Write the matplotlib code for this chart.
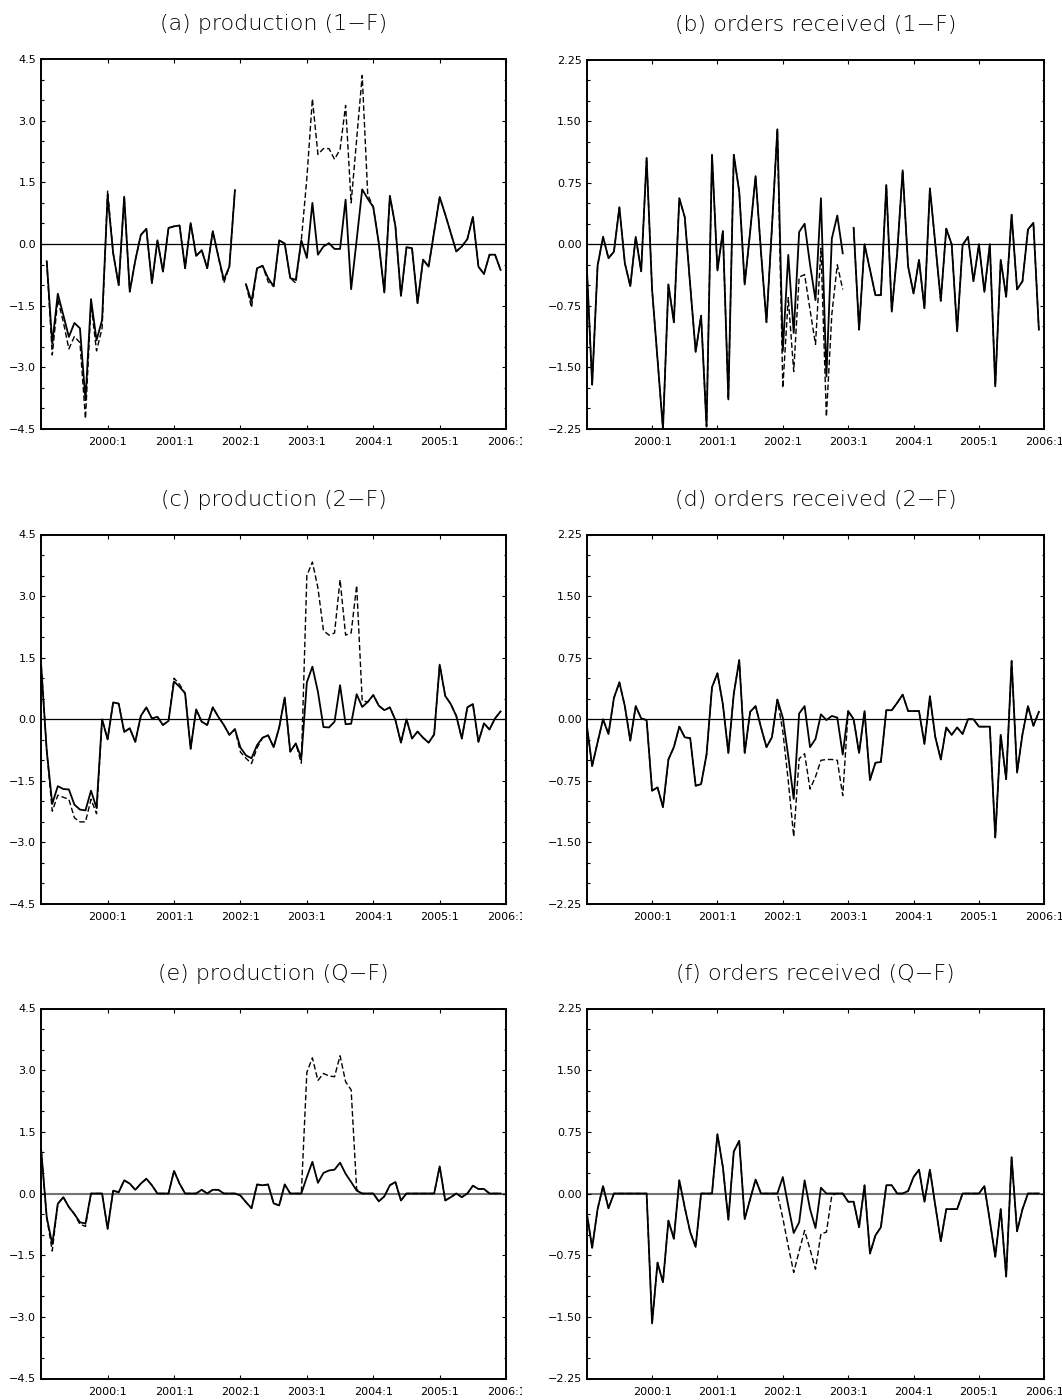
import numpy as np
import matplotlib
matplotlib.use('Agg')
import matplotlib.pyplot as plt
from matplotlib.ticker import FixedLocator, FuncFormatter
from matplotlib.transforms import Bbox

nan = np.nan

# month index: 0 = 1999:1 ... 83 = 2005:12
year_ticks = [12, 24, 36, 48, 60, 72, 84]
year_labels = ['2000:1', '2001:1', '2002:1', '2003:1', '2004:1', '2005:1', '2006:1']

# ---- (a) production (1-F)
prod_1f = [nan, -0.42, -2.42, -1.21, -1.73, -2.26, -1.92, -2.05, -3.80, -1.34, -2.34, -1.85,
           1.17, -0.22, -1.00, 1.15, -1.16, -0.40, 0.22, 0.37, -0.95, 0.09, -0.67, 0.39,
           0.43, 0.45, -0.59, 0.51, -0.29, -0.15, -0.59, 0.31, -0.30, -0.87, -0.55, 1.31,
           nan, -0.98, -1.40, -0.59, -0.53, -0.83, -1.03, 0.09, 0.01, -0.83, -0.87, 0.09,
           -0.34, 1.00, -0.26, -0.06, 0.02, -0.12, -0.12, 1.08, -1.10, 0.10, 1.33, 1.10,
           0.90, 0.02, -1.18, 1.17, 0.43, -1.26, -0.08, -0.10, -1.44, -0.38, -0.55, 0.30,
           1.14, 0.72, 0.27, -0.18, -0.06, 0.12, 0.66, -0.55, -0.73, -0.26, -0.26, -0.63]
# dashed series where it departs from the solid one: {first month: values}
prod_1f_dash = {1: [-0.42, -2.70, -1.35, -1.90, -2.55, -2.25, -2.40, -4.25, -1.45, -2.60, -2.05, 1.30],
                33: [-0.95], 38: [-1.55], 41: [-0.92], 46: [-0.95],
                48: [1.60, 3.53, 2.18, 2.32, 2.32, 2.06, 2.30, 3.37, 1.00, 2.55, 4.10, 1.20]}

# ---- (b) orders received (1-F)
ord_1f = [-0.24, -1.71, -0.26, 0.09, -0.17, -0.09, 0.45, -0.23, -0.51, 0.09, -0.33, 1.05,
          -0.55, -1.40, -2.25, -0.49, -0.95, 0.56, 0.33, -0.50, -1.31, -0.87, -2.22, 1.09,
          -0.32, 0.16, -1.89, 1.09, 0.64, -0.49, 0.15, 0.83, -0.10, -0.95, 0.20, 1.40,
          -1.30, -0.13, -1.08, 0.15, 0.25, -0.25, -0.68, 0.56, -1.61, 0.07, 0.35, -0.11,
          nan, 0.20, -1.04, 0.00, -0.31, -0.62, -0.62, 0.72, -0.82, -0.10, 0.90, -0.27,
          -0.60, -0.19, -0.78, 0.68, 0.00, -0.69, 0.19, 0.00, -1.06, -0.01, 0.09, -0.45,
          0.00, -0.58, 0.00, -1.73, -0.19, -0.64, 0.36, -0.55, -0.45, 0.18, 0.26, -1.04]
ord_1f_dash = {36: [-1.75, -0.65, -1.55, -0.40, -0.37, -0.80, -1.22, -0.05, -2.10, -0.85, -0.25, -0.55]}

# ---- (c) production (2-F)
prod_2f = [1.30, -0.77, -2.06, -1.63, -1.70, -1.71, -2.08, -2.20, -2.22, -1.74, -2.16, 0.00,
           -0.49, 0.41, 0.38, -0.31, -0.22, -0.55, 0.08, 0.29, 0.02, 0.06, -0.14, -0.04,
           0.92, 0.79, 0.63, -0.72, 0.24, -0.06, -0.14, 0.29, 0.06, -0.14, -0.38, -0.24,
           -0.69, -0.88, -0.95, -0.63, -0.45, -0.39, -0.68, -0.20, 0.53, -0.79, -0.59, -0.94,
           0.90, 1.28, 0.67, -0.19, -0.20, -0.06, 0.83, -0.12, -0.11, 0.61, 0.30, 0.42,
           0.59, 0.33, 0.22, 0.29, -0.02, -0.57, 0.00, -0.47, -0.30, -0.45, -0.57, -0.37,
           1.33, 0.57, 0.37, 0.08, -0.47, 0.29, 0.37, -0.55, -0.10, -0.25, 0.02, 0.19]
prod_2f_dash = {2: [-2.24, -1.85, -1.90, -1.95, -2.40, -2.50, -2.50, -1.95, -2.30],
                24: [1.00, 0.85],
                36: [-0.80, -0.95, -1.08, -0.70],
                47: [-1.07, 3.50, 3.83, 3.20, 2.16, 2.05, 2.10, 3.40, 2.05, 2.10, 3.26, 0.45]}

# ---- (d) orders received (2-F)
ord_2f = [-0.06, -0.57, -0.28, 0.00, -0.18, 0.26, 0.45, 0.16, -0.26, 0.16, 0.01, -0.01,
          -0.87, -0.83, -1.07, -0.49, -0.34, -0.09, -0.22, -0.23, -0.81, -0.79, -0.43, 0.39,
          0.56, 0.18, -0.41, 0.31, 0.72, -0.41, 0.09, 0.16, -0.10, -0.34, -0.22, 0.24,
          0.02, -0.45, -0.97, 0.07, 0.16, -0.34, -0.24, 0.06, -0.01, 0.04, 0.02, -0.43,
          0.10, 0.00, -0.41, 0.10, -0.74, -0.53, -0.52, 0.11, 0.11, 0.20, 0.30, 0.10,
          0.10, 0.10, -0.30, 0.28, -0.22, -0.49, -0.10, -0.19, -0.10, -0.18, 0.00, 0.00,
          -0.09, -0.09, -0.09, -1.44, -0.19, -0.73, 0.71, -0.65, -0.18, 0.16, -0.08, 0.09]
ord_2f_dash = {36: [-0.15, -0.75, -1.43, -0.48, -0.42, -0.85, -0.70, -0.50, -0.49, -0.49, -0.50, -0.93]}

# ---- (e) production (Q-F)
prod_qf = [1.05, -0.58, -1.23, -0.25, -0.09, -0.33, -0.50, -0.70, -0.73, 0.00, 0.00, 0.00,
           -0.86, 0.07, 0.03, 0.32, 0.24, 0.09, 0.24, 0.36, 0.20, 0.00, 0.00, 0.00,
           0.55, 0.24, 0.00, 0.00, 0.00, 0.09, 0.00, 0.09, 0.09, 0.00, 0.00, 0.00,
           -0.05, -0.21, -0.36, 0.22, 0.20, 0.22, -0.24, -0.29, 0.22, 0.00, 0.00, 0.00,
           0.40, 0.77, 0.26, 0.50, 0.56, 0.58, 0.75, 0.48, 0.28, 0.07, 0.00, 0.00,
           0.00, -0.19, -0.07, 0.20, 0.28, -0.17, 0.00, 0.00, 0.00, 0.00, 0.00, 0.00,
           0.66, -0.17, -0.09, 0.00, -0.09, 0.00, 0.19, 0.11, 0.11, 0.00, 0.00, 0.00]
prod_qf_dash = {2: [-1.40], 7: [-0.75, -0.80],
                48: [2.95, 3.30, 2.75, 2.92, 2.86, 2.84, 3.35, 2.72, 2.52, 0.10]}

# ---- (f) orders received (Q-F)
ord_qf = [-0.23, -0.66, -0.19, 0.09, -0.18, 0.00, 0.00, 0.00, 0.00, 0.00, 0.00, 0.00,
          -1.58, -0.84, -1.08, -0.33, -0.55, 0.16, -0.17, -0.47, -0.65, 0.00, 0.00, 0.00,
          0.72, 0.32, -0.32, 0.51, 0.64, -0.31, -0.07, 0.17, 0.00, 0.00, 0.00, 0.00,
          0.20, -0.15, -0.48, -0.35, 0.16, -0.19, -0.42, 0.07, 0.00, 0.00, 0.00, 0.00,
          -0.10, -0.10, -0.41, 0.10, -0.73, -0.51, -0.41, 0.10, 0.10, 0.00, 0.00, 0.03,
          0.20, 0.29, -0.10, 0.29, -0.15, -0.58, -0.19, -0.19, -0.19, 0.00, 0.00, 0.00,
          0.00, 0.09, -0.33, -0.77, -0.19, -1.01, 0.44, -0.46, -0.19, 0.00, 0.00, 0.00]
ord_qf_dash = {36: [-0.30, -0.64, -0.96, -0.70, -0.45, -0.68, -0.92, -0.49, -0.47, -0.02]}

prod_ticks = [-4.5, -3.0, -1.5, 0.0, 1.5, 3.0, 4.5]
ord_ticks = [-2.25, -1.50, -0.75, 0.0, 0.75, 1.50, 2.25]

W, H = 1062, 1400
plt.rcParams['font.family'] = ['DejaVu Sans']
fig = plt.figure(figsize=(W / 100, H / 100), dpi=100)


def rect(l, t, r, b):
    return [l / W, 1 - b / H, (r - l) / W, (b - t) / H]


LX = (41.2, 506.1)
RX = (586.7, 1044.3)
panels = [
    ('(a) production (1\u2212F)', prod_1f, prod_1f_dash, prod_ticks, 1, rect(LX[0], 59, LX[1], 429), 'k'),
    ('(b) orders received (1\u2212F)', ord_1f, ord_1f_dash, ord_ticks, 2, rect(RX[0], 59.5, RX[1], 429), 'k'),
    ('(c) production (2\u2212F)', prod_2f, prod_2f_dash, prod_ticks, 1, rect(LX[0], 534.5, LX[1], 904), 'k'),
    ('(d) orders received (2\u2212F)', ord_2f, ord_2f_dash, ord_ticks, 2, rect(RX[0], 534.5, RX[1], 904), 'k'),
    ('(e) production (Q\u2212F)', prod_qf, prod_qf_dash, prod_ticks, 1, rect(LX[0], 1008.5, LX[1], 1378.5), '0.45'),
    ('(f) orders received (Q\u2212F)', ord_qf, ord_qf_dash, ord_ticks, 2, rect(RX[0], 1008.5, RX[1], 1378.5), '0.45'),
]

axes = []
for title, solid, dash_parts, yt, ndec, box, zcol in panels:
    ax = fig.add_axes(box)
    solid = np.array(solid, dtype=float)
    dashed = solid.copy()
    for start, vals in dash_parts.items():
        dashed[start:start + len(vals)] = vals
    months = np.arange(len(solid))

    ax.axhline(0, color=zcol, lw=0.9 if zcol == 'k' else 1.5, zorder=1)
    ax.plot(months, dashed, color='k', lw=1.0, ls=(0, (4, 2)), zorder=2)
    ax.plot(months, solid, color='k', lw=1.3, zorder=3)

    ax.set_xlim(0, 84)
    ax.set_ylim(yt[0], yt[-1])
    ax.set_xticks(year_ticks, year_labels)
    ax.yaxis.set_major_locator(FixedLocator(yt))
    step = (yt[1] - yt[0]) / 3
    ax.yaxis.set_minor_locator(FixedLocator(np.arange(yt[0], yt[-1] + step / 2, step)))

    def fmt(v, pos, nd=ndec):
        if abs(v) < 1e-9:
            v = 0.0
        return f'{v:.{nd}f}'.replace('-', '\u2212')
    ax.yaxis.set_major_formatter(FuncFormatter(fmt))

    ax.tick_params(which='both', direction='in', top=True, right=True, width=0.8)
    ax.tick_params(which='major', length=3)
    ax.tick_params(which='minor', length=1.8)
    ax.tick_params(axis='x', pad=5.8, labelsize=8)
    ax.tick_params(axis='y', pad=3.6, labelsize=8)
    for sp in ax.spines.values():
        sp.set_linewidth(1.4)

    ax.annotate(title, xy=(0.5, 1), xycoords='axes fraction', xytext=(0, 25),
                textcoords='offset points', ha='center', va='center',
                fontsize=16, fontweight='light')
    axes.append(ax)

fig.canvas.draw()
# in the source figure the last year label of the left column is cut off
for ax in axes[0::2]:
    lab = ax.get_xticklabels()[-1]
    lab.set_clip_on(True)
    lab.set_clip_box(Bbox.from_extents(0, 0, 522, H))

fig.savefig('out.png', dpi=100)
